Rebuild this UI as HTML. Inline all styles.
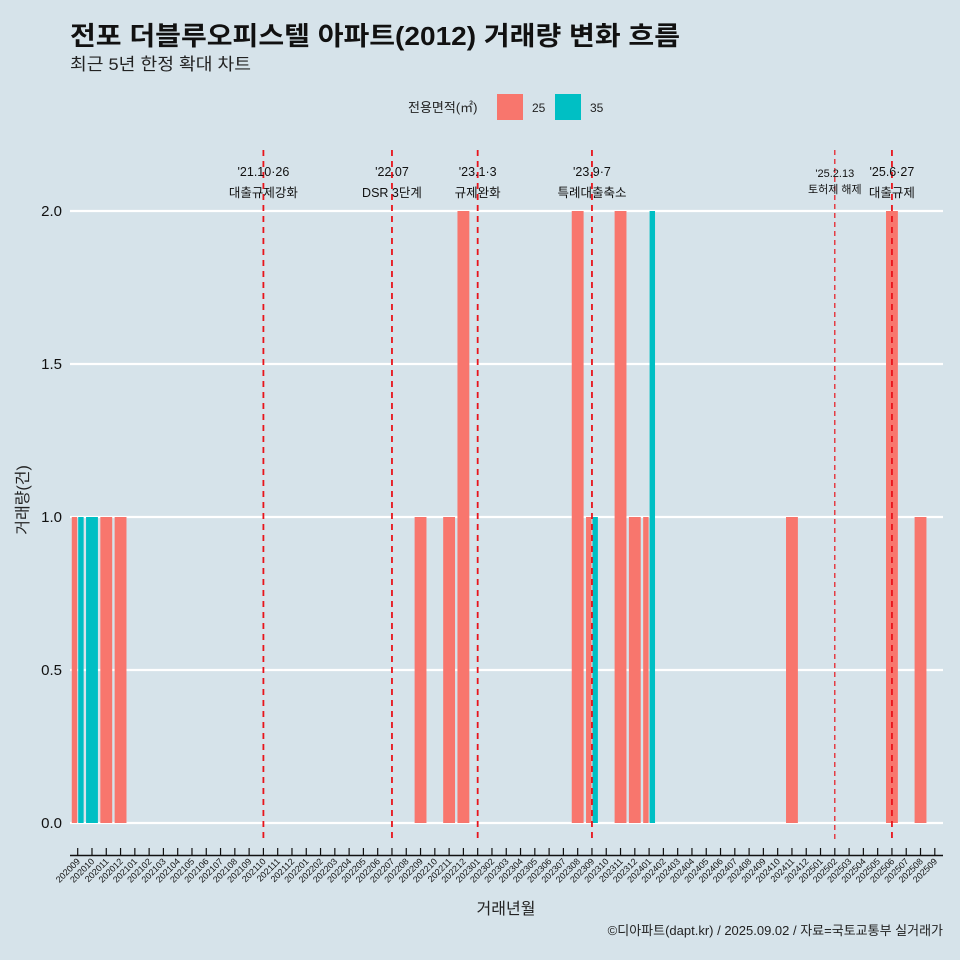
<!DOCTYPE html>
<html><head><meta charset="utf-8"><style>
html,body{margin:0;padding:0;background:#d6e3ea;}
svg{display:block;font-family:"Liberation Sans","Noto Sans CJK KR",sans-serif;}
</style></head><body>
<svg id="chart" width="960" height="960" viewBox="0 0 960 960">
<rect x="0" y="0" width="960" height="960" fill="#d6e3ea"/>
<text x="70" y="45" font-size="26" font-weight="bold" fill="#111" textLength="610" lengthAdjust="spacingAndGlyphs">전포 더블루오피스텔 아파트(2012) 거래량 변화 흐름</text>
<text x="70" y="70" font-size="17" fill="#222" textLength="181" lengthAdjust="spacingAndGlyphs">최근 5년 한정 확대 차트</text>
<g>
<text x="408" y="112" font-size="13" fill="#222">전용면적(㎡)</text>
<rect x="497" y="94" width="26" height="26" fill="#f8766d"/>
<text x="532" y="112" font-size="12" fill="#222">25</text>
<rect x="555" y="94" width="26" height="26" fill="#00bfc4"/>
<text x="590" y="112" font-size="12" fill="#222">35</text>
</g>
<g id="grid"></g><g id="bars"></g><g id="events"></g><g id="xaxis"></g>
<text x="28" y="500" font-size="16" fill="#222" text-anchor="middle" transform="rotate(-90 28 500)">거래량(건)</text>
<text x="506" y="914" font-size="16" fill="#222" text-anchor="middle">거래년월</text>
<text x="943" y="935" font-size="13" fill="#222" text-anchor="end">©디아파트(dapt.kr) / 2025.09.02 / 자료=국토교통부 실거래가</text>
</svg>
<script>
const months = [];
for (let y = 2020; y <= 2025; y++) for (let m = 1; m <= 12; m++) {
  const k = y * 100 + m; if (k >= 202009 && k <= 202509) months.push(String(k));
}
const months25 = ["202009","202011","202012","202209","202211","202212","202308","202309","202311","202312","202401","202411","202506","202508"];
const values25 = [1,1,1,1,1,2,2,1,2,1,1,1,2,1];
const months35 = ["202009","202010","202309","202401"];
const values35 = [1,1,1,2];
const yTicks = [0,0.5,1,1.5,2];
const yTickLabels = ["0.0","0.5","1.0","1.5","2.0"];
const eventMonths = ["202110","202207","202301","202309","202502","202506"];
const eventDates = ["'21.10·26","'22.07","'23.1·3","'23.9·7","'25.2.13","'25.6·27"];
const eventNotes = ["대출규제강화","DSR 3단계","규제완화","특례대출축소","토허제 해제","대출규제"];

const NS = "http://www.w3.org/2000/svg";
const x0 = 77.7, step = 14.285, y0 = 823, y2 = 211;
const xs = m => x0 + months.indexOf(m) * step;
const ys = v => y0 - (v / 2) * (y0 - y2);
function mk(tag, attrs, parent) {
  const e = document.createElementNS(NS, tag);
  for (const k in attrs) e.setAttribute(k, attrs[k]);
  parent.appendChild(e); return e;
}
const grid = document.getElementById('grid');
yTicks.forEach((t, i) => {
  const l = mk('line', {x1: 70, x2: 943, y1: ys(t), y2: ys(t), stroke: '#fff', 'stroke-width': 2.2}, grid);
  
  
  const tx = mk('text', {x: 62, y: ys(t) + 5, 'font-size': 15, 'text-anchor': 'end', fill: '#111'}, grid);
  tx.textContent = yTickLabels[i];
  
  
});
const bars = document.getElementById('bars');
const bw = 0.9 * step;
function drawBar(m, v, color, slot, n, name) {
  const w = bw / n;
  const x = xs(m) - bw / 2 + slot * w;
  const r = mk('rect', {x: x + 0.5, y: ys(v), width: w - 1, height: y0 - ys(v), fill: color}, bars);
  
  
}
months25.forEach((m, i) => {
  const both = months35.includes(m);
  drawBar(m, values25[i], '#f8766d', 0, both ? 2 : 1, 'bar-25-' + m);
});
months35.forEach((m, i) => {
  const both = months25.includes(m);
  drawBar(m, values35[i], '#00bfc4', both ? 1 : 0, both ? 2 : 1, 'bar-35-' + m);
});
const ev = document.getElementById('events');
eventMonths.forEach((m, i) => {
  const x = xs(m);
  const thin = m === "202502";
  const l = mk('line', {x1: x, x2: x, y1: 150, y2: 843, stroke: '#e8141b', 'stroke-width': thin ? 1.2 : 1.8, 'stroke-dasharray': thin ? '5 4' : '6 5'}, ev);
  
  
  const fs = thin ? 11 : 12.5;
  const t1 = mk('text', {x: x, y: thin ? 177 : 176, 'font-size': fs, 'text-anchor': 'middle', fill: '#111'}, ev);
  t1.textContent = eventDates[i];
  
  
  const t2 = mk('text', {x: x, y: thin ? 193 : 197, 'font-size': fs, 'text-anchor': 'middle', fill: '#111'}, ev);
  t2.textContent = eventNotes[i];
  
  
});
const xa = document.getElementById('xaxis');
const al = mk('line', {x1: 70, x2: 943, y1: 855.5, y2: 855.5, stroke: '#111', 'stroke-width': 1.5}, xa);


months.forEach(m => {
  const x = xs(m);
  const t = mk('line', {x1: x, x2: x, y1: 848, y2: 856, stroke: '#111', 'stroke-width': 1.2}, xa);
  
  
  const tx = mk('text', {x: x + 3, y: 862, 'font-size': 9, 'text-anchor': 'end', fill: '#111', transform: `rotate(-45 ${x + 3} 862)`}, xa);
  tx.textContent = m;
  
  
});
</script>
</body></html>
